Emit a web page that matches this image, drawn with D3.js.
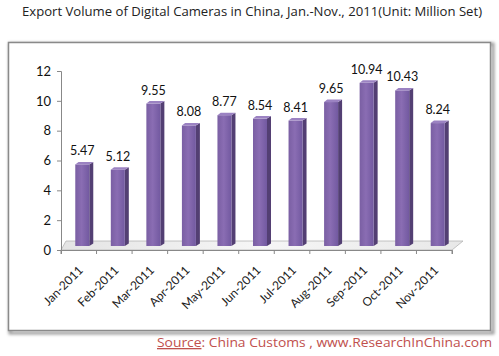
<!DOCTYPE html>
<html><head><meta charset="utf-8">
<script src="https://cdn.jsdelivr.net/npm/d3@7"></script>
<style>body{margin:0;background:#fff;}svg{display:block;}</style>
</head><body>
<svg id="c" width="499" height="356"></svg>
<script>
const months = ["Jan-2011","Feb-2011","Mar-2011","Apr-2011","May-2011","Jun-2011","Jul-2011","Aug-2011","Sep-2011","Oct-2011","Nov-2011"];
const values = [5.47,5.12,9.55,8.08,8.77,8.54,8.41,9.65,10.94,10.43,8.24];
const yTicks = [0,2,4,6,8,10,12];
const titleText = "Export Volume of Digital Cameras in China, Jan.-Nov., 2011(Unit:  Million  Set)";

const svg = d3.select("#c");
const defs = svg.append("defs");
const fg = defs.append("linearGradient").attr("id","front").attr("x1","0").attr("x2","1");
fg.append("stop").attr("offset","0").attr("stop-color","#7a5fa3");
fg.append("stop").attr("offset","0.45").attr("stop-color","#8a6db3");
fg.append("stop").attr("offset","1").attr("stop-color","#7259a0");
const flg = defs.append("linearGradient").attr("id","floor").attr("x1","0").attr("x2","1");
flg.append("stop").attr("offset","0").attr("stop-color","#e4e4e4");
flg.append("stop").attr("offset","0.5").attr("stop-color","#f6f6f6");
flg.append("stop").attr("offset","1").attr("stop-color","#e8e8e8");
const blur = defs.append("filter").attr("id","sh").attr("x","-5%").attr("y","-5%").attr("width","110%").attr("height","110%");
blur.append("feGaussianBlur").attr("stdDeviation","1.5");

// frame
svg.append("rect").attr("x",10).attr("y",44).attr("width",483).attr("height",289)
  .attr("fill","none").attr("stroke","#9a9a9a").attr("stroke-width",3).attr("filter","url(#sh)");
svg.append("rect").attr("x",8.5).attr("y",42.5).attr("width",482).attr("height",288)
  .attr("fill","#fff").attr("stroke","#8a8a8a").attr("stroke-width",1.5);

// title
svg.append("text").attr("x",22).attr("y",16).attr("font-family","'Open Sans', sans-serif")
  .attr("font-size",12.5).attr("fill","#222").attr("textLength",460).attr("lengthAdjust","spacingAndGlyphs")
  .text(titleText);

// scales
const x = d3.scaleBand().domain(months).range([61,452]);
const y = d3.scaleLinear().domain([0,12]).range([250,71]);
const depthX = 3.5, depthY = -4;

// floor
const fl = [[61,250],[452,250],[463,241],[66,241]];
svg.append("polygon").attr("points",fl.map(p=>p.join(",")).join(" "))
  .attr("fill","url(#floor)").attr("stroke","#b5b5b5").attr("stroke-width",0.8);

// axes
const yAxis = svg.append("g").attr("transform","translate(61,0)")
  .call(d3.axisLeft(y).tickValues(yTicks).tickSize(4).tickPadding(6).tickFormat(d3.format("d")));
yAxis.select(".domain").attr("stroke","#888");
yAxis.selectAll(".tick line").attr("stroke","#888");
yAxis.selectAll("text").attr("font-family","Lato, 'Open Sans', sans-serif").attr("font-size",13).attr("fill","#111");

const xAxis = svg.append("g").attr("transform","translate(0,250)")
  .call(d3.axisBottom(x).tickSize(4).tickFormat(""));
xAxis.select(".domain").attr("stroke","#888");
xAxis.selectAll(".tick").remove();
// boundary ticks between categories
const bounds = months.map(m=>x(m)).concat([x.range()[1]]);
svg.append("g").selectAll("line").data(bounds).join("line")
  .attr("x1",d=>d).attr("x2",d=>d).attr("y1",250).attr("y2",254)
  .attr("stroke","#888");

// x labels
svg.append("g").selectAll("text").data(months).join("text")
  .attr("transform",d=>`translate(${x(d)+x.bandwidth()/2+5},${271}) rotate(-45)`)
  .attr("text-anchor","end").attr("font-family","Lato, 'Open Sans', sans-serif")
  .attr("font-size",12).attr("fill","#222").text(d=>d);

// bars
const fw = 14, sw = 4;
const bars = svg.append("g").selectAll("g").data(months.map((m,i)=>({m,v:values[i]}))).join("g");
bars.each(function(d){
  const g = d3.select(this);
  const cx = x(d.m)+x.bandwidth()/2+depthX;
  const x0 = cx - fw/2, x1 = cx + fw/2;
  const yb = y(0)+depthY, yt = y(d.v)+depthY;
  g.append("path").attr("d",`M${x1},${yt} L${x1+sw},${yt-2.5} L${x1+sw},${yb-2.5} L${x1},${yb} Z`).attr("fill","#533f73");
  g.append("rect").attr("x",x0).attr("y",yt).attr("width",fw).attr("height",yb-yt).attr("fill","url(#front)");
  g.append("path").attr("d",`M${x0},${yt} L${x0+sw*0.8},${yt-2.5} L${x1+sw},${yt-2.5} L${x1},${yt} Z`).attr("fill","#9b82c2");
  g.append("text").attr("x",cx).attr("y",yt-9).attr("text-anchor","middle")
    .attr("font-family","Lato, 'Open Sans', sans-serif").attr("font-size",12.5).attr("fill","#111")
    .text(d.v.toFixed(2));
});

// source
const src = svg.append("text").attr("x",157).attr("y",347).attr("font-family","'Open Sans', sans-serif")
  .attr("font-size",13).attr("fill","#c0504d").attr("textLength",335).attr("lengthAdjust","spacingAndGlyphs");
src.append("tspan").attr("text-decoration","underline").text("Source");
src.append("tspan").text(": China Customs , www.ResearchInChina.com");
</script>
</body></html>
